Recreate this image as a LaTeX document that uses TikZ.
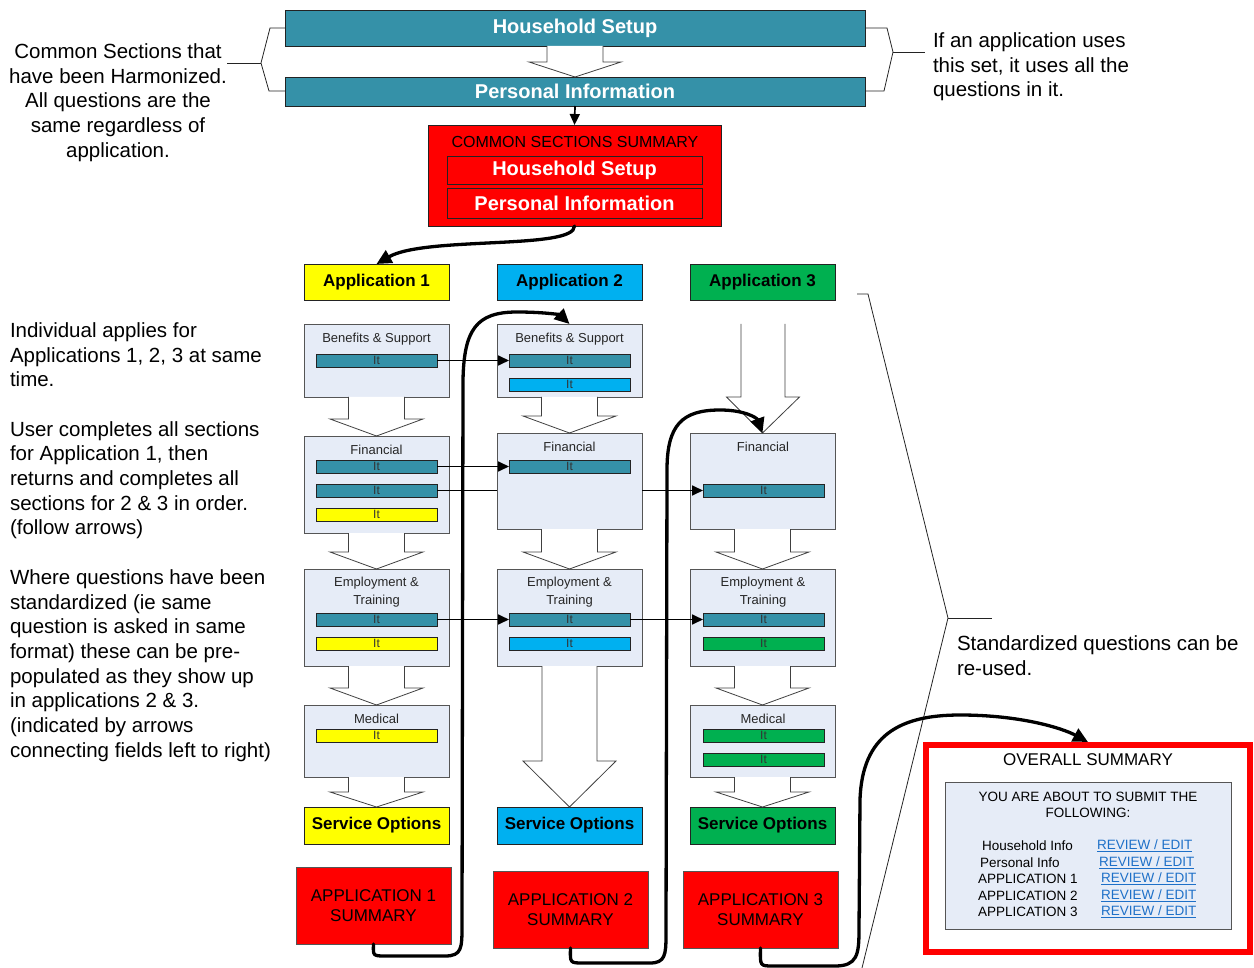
\documentclass[tikz,border=0pt]{standalone}
\usepackage{fontspec}
\setmainfont{Liberation Sans}
\usetikzlibrary{arrows.meta,calc}
\definecolor{tealc}{RGB}{53,145,168}
\definecolor{ylw}{RGB}{255,255,0}
\definecolor{cyn}{RGB}{0,176,240}
\definecolor{grn}{RGB}{0,176,80}
\definecolor{secfill}{RGB}{230,236,247}
\definecolor{secdraw}{RGB}{85,85,85}
\definecolor{darkb}{RGB}{35,35,35}
\definecolor{linkblue}{RGB}{30,112,200}
\newcommand{\fs}[2]{\fontsize{#1}{#2}\selectfont}
\newcommand{\blockarr}[5]{%
  \path[blk] let \p1=#1, \p2=#2 in
    (\x1-#3,\y1) -- (\x1-#3,\y2+#5) -- (\x1-#4,\y2+#5) -- (\x2,\y2)
    -- (\x1+#4,\y2+#5) -- (\x1+#3,\y2+#5) -- (\x1+#3,\y1);}
\begin{document}
\begin{tikzpicture}[x=1pt,y=-1pt,
  every node/.style={inner sep=0pt, outer sep=0pt},
  rbox/.style={rectangle, anchor=north west, draw=darkb, line width=0.8pt},
  hdr/.style={rbox, fill=tealc, text=white, font=\fs{20}{24}\bfseries, minimum width=580pt},
  hdrred/.style={rbox, fill=red, text=white, font=\fs{20}{24}\bfseries, minimum width=255pt},
  apph/.style={rbox, minimum width=145pt, minimum height=36pt, font=\fs{17}{20}\bfseries},
  sec/.style={rbox, draw=secdraw, fill=secfill, minimum width=145pt},
  ttl/.style={font=\fs{13}{17.5}, text=black!85, align=center},
  fld/.style={rbox, minimum width=121pt, minimum height=13pt, font=\fs{12}{13}, text=black!80},
  sumbox/.style={rbox, draw=secdraw, fill=red, minimum width=155pt, minimum height=77pt, font=\fs{17}{20}, align=center},
  blk/.style={draw=black!75, fill=white, line width=0.8pt, line join=miter},
  lnk/.style={draw=black, line width=1.7pt, -{Triangle[length=11pt,width=10pt]}},
  flow/.style={draw=black, line width=3.3pt, line cap=round, -{Triangle[length=15pt,width=14pt]}},
  brk/.style={draw=darkb, line width=0.8pt},
  note/.style={font=\fs{20.5}{24.7}},
  sml/.style={font=\fs{13.5}{16.5}},
  lk/.style={font=\fs{13.5}{16.5}, text=linkblue}
]
\useasboundingbox (0,0) rectangle (1254,968);

% ---- top common sections ----
\node[hdr, minimum height=36pt] (hs) at (285,10) {Household Setup};
\node[hdr, minimum height=29pt] (pi) at (285,77) {Personal Information};
\blockarr{(hs.south)}{(pi.north)}{28}{46}{15}

\node[rbox, fill=red, minimum width=293pt, minimum height=101pt] (css) at (428,125) {};
\node[font=\fs{16}{19}] (csst) at (575,142) {COMMON SECTIONS SUMMARY};
\node[hdrred, minimum height=28pt] (css1) at (447,156) {Household Setup};
\node[hdrred, minimum height=30pt] (css2) at (447,188) {Personal Information};
\draw[lnk] (pi.south) -- (css.north);

% brackets and notes
\draw[brk] (285,28) -- (270,28) -- (261,63) -- (269,91) -- (285,91);
\draw[brk] (227,63) -- (261,63);
\draw[brk] (865,28) -- (887,28) -- (893,52) -- (884,91) -- (865,91);
\draw[brk] (893,52) -- (925,52);
\node[note, align=center, anchor=north] (n1) at (118,43.5) {Common Sections that\\have been Harmonized.\\All questions are the\\same regardless of\\application.};
\node[note, align=left, anchor=north west] (n2) at (933,32.5) {If an application uses\\this set, it uses all the\\questions in it.};
\node[note, align=left, anchor=north west] (n3) at (10,322.5) {Individual applies for\\Applications 1, 2, 3 at same\\time.\\[24.7pt]User completes all sections\\for Application 1, then\\returns and completes all\\sections for 2 \& 3 in order.\\(follow arrows)\\[24.7pt]Where questions have been\\standardized (ie same\\question is asked in same\\format) these can be pre-\\populated as they show up\\in applications 2 \& 3.\\(indicated by arrows\\connecting fields left to right)};
\draw[brk] (857,294) -- (868,294) -- (948,618) -- (862,968);
\draw[brk] (948,618) -- (992,618);
\node[note, align=left, anchor=north west] (n4) at (957,635.5) {Standardized questions can be\\re-used.};

% ---- application headers ----
\node[apph, fill=ylw] (a1) at (304,264) {Application 1};
\node[apph, fill=cyn] (a2) at (497,264) {Application 2};
\node[apph, fill=grn] (a3) at (690,264) {Application 3};

% ---- column 1 ----
\node[sec, minimum height=73pt] (b1) at (304,324) {};
\node[ttl] at (376.5,339) {Benefits \& Support};
\node[fld, fill=tealc] (b1f1) at (316,354) {It};
\node[sec, minimum height=97pt] (f1) at (304,436) {};
\node[ttl] at (376.5,450) {Financial};
\node[fld, fill=tealc] (f1f1) at (316,460) {It};
\node[fld, fill=tealc] (f1f2) at (316,484) {It};
\node[fld, fill=ylw] (f1f3) at (316,508) {It};
\node[sec, minimum height=97pt] (e1) at (304,569) {};
\node[ttl] at (376.5,592) {Employment \&\\Training};
\node[fld, fill=tealc] (e1f1) at (316,613) {It};
\node[fld, fill=ylw] (e1f2) at (316,637) {It};
\node[sec, minimum height=72pt] (m1) at (304,705) {};
\node[ttl] at (376.5,719) {Medical};
\node[fld, fill=ylw] (m1f1) at (316,729) {It};
\node[apph, fill=ylw, minimum height=37pt] (o1) at (304,807) {Service Options};
\node[sumbox] (s1) at (296,867) {APPLICATION 1\\SUMMARY};

% ---- column 2 ----
\node[sec, minimum height=73pt] (b2) at (497,324) {};
\node[ttl] at (569.5,339) {Benefits \& Support};
\node[fld, fill=tealc] (b2f1) at (509,354) {It};
\node[fld, fill=cyn] (b2f2) at (509,378) {It};
\node[sec, minimum height=96pt] (f2) at (497,433) {};
\node[ttl] at (569.5,447) {Financial};
\node[fld, fill=tealc] (f2f1) at (509,460) {It};
\node[sec, minimum height=97pt] (e2) at (497,569) {};
\node[ttl] at (569.5,592) {Employment \&\\Training};
\node[fld, fill=tealc] (e2f1) at (509,613) {It};
\node[fld, fill=cyn] (e2f2) at (509,637) {It};
\node[apph, fill=cyn, minimum height=37pt] (o2) at (497,807) {Service Options};
\node[sumbox] (s2) at (493,871) {APPLICATION 2\\SUMMARY};

% ---- column 3 ----
\coordinate (c3top) at (763,324);
\node[sec, minimum height=96pt] (f3) at (690,433) {};
\node[ttl] at (763,447) {Financial};
\node[fld, fill=tealc] (f3f1) at (703,484) {It};
\node[sec, minimum height=97pt] (e3) at (690,569) {};
\node[ttl] at (763,592) {Employment \&\\Training};
\node[fld, fill=tealc] (e3f1) at (703,613) {It};
\node[fld, fill=grn] (e3f2) at (703,637) {It};
\node[sec, minimum height=72pt] (m3) at (690,705) {};
\node[ttl] at (763,719) {Medical};
\node[fld, fill=grn] (m3f1) at (703,729) {It};
\node[fld, fill=grn] (m3f2) at (703,753) {It};
\node[apph, fill=grn, minimum height=37pt] (o3) at (690,807) {Service Options};
\node[sumbox] (s3) at (683,871) {APPLICATION 3\\SUMMARY};

% ---- block arrows ----
\blockarr{(b1.south)}{(f1.north)}{28}{46.5}{17}
\blockarr{(f1.south)}{(e1.north)}{28}{46.5}{17}
\blockarr{(e1.south)}{(m1.north)}{28}{46.5}{17}
\blockarr{(m1.south)}{(o1.north)}{28}{46.5}{15}
\blockarr{(b2.south)}{(f2.north)}{28}{46.5}{17}
\blockarr{(f2.south)}{(e2.north)}{28}{46.5}{17}
\blockarr{(e2.south)}{(o2.north)}{27.5}{46.5}{46}
\blockarr{(c3top)}{(f3.north)}{22}{36.5}{36}
\blockarr{(f3.south)}{(e3.north)}{28}{46.5}{17}
\blockarr{(e3.south)}{(m3.north)}{28}{46.5}{17}
\blockarr{(m3.south)}{(o3.north)}{28}{46.5}{15}

% ---- field links ----
\draw[lnk] (b1f1.east) -- (b2f1.west);
\draw[lnk] (f1f1.east) -- (f2f1.west);
\draw[line width=1.7pt] (f1f2.east) -- (f1f2.east -| f2.west);
\draw[lnk] (f1f2.east -| f2.east) -- (f3f1.west);
\draw[lnk] (e1f1.east) -- (e2f1.west);
\draw[lnk] (e2f1.east) -- (e3f1.west);

% ---- overall summary ----
\node[rbox, draw=red, line width=6pt, outer sep=3pt, minimum width=324pt, minimum height=207pt] (os) at (923,742) {};
\node[font=\fs{17}{20}] (ost) at (1088,760) {OVERALL SUMMARY};
\node[sec, minimum width=286pt, minimum height=147pt] (osin) at (945,782) {};
\node[sml, align=center] (yat) at (1088,805) {YOU ARE ABOUT TO SUBMIT THE\\FOLLOWING:};
\node[sml, anchor=west] (r1) at (982,846) {Household Info};
\node[sml, anchor=west] (r2) at (980,863) {Personal Info};
\node[sml, anchor=west] (r3) at (978,879) {APPLICATION 1};
\node[sml, anchor=west] (r4) at (978,896) {APPLICATION 2};
\node[sml, anchor=west] (r5) at (978,912) {APPLICATION 3};
\node[lk, anchor=west] (l1) at (1097,846) {\underline{REVIEW / EDIT}};
\node[lk, anchor=west] (l2) at (1099,863) {\underline{REVIEW / EDIT}};
\node[lk, anchor=west] (l3) at (1101,879) {\underline{REVIEW / EDIT}};
\node[lk, anchor=west] (l4) at (1101,896) {\underline{REVIEW / EDIT}};
\node[lk, anchor=west] (l5) at (1101,912) {\underline{REVIEW / EDIT}};

% ---- flow curves ----
\draw[flow] (css.south) .. controls (575,250) and (425,236) .. (a1.north);
\draw[flow] (s1.south) .. controls (373,956) and (373,956) .. (386,956) -- (445,956)
  .. controls (462,956) and (462,948) .. (462,925) -- (463,380)
  .. controls (464,330) and (476,312) .. (517,312)
  .. controls (545,312) and (560,315) .. (b2.north);
\draw[flow] (s2.south) .. controls (570,963) and (570,963) .. (583,963) -- (650,963)
  .. controls (665,963) and (666,955) .. (666,935) -- (667,470)
  .. controls (667,425) and (682,410) .. (720,410)
  .. controls (745,410) and (757,418) .. (f3.north);
\draw[flow] (s3.south) .. controls (760,966) and (760,966) .. (773,966) -- (835,966)
  .. controls (857,966) and (859,955) .. (859,930) -- (860,800)
  .. controls (862,735) and (900,715) .. (960,715)
  .. controls (1020,715) and (1062,728) .. (os.north);
\end{tikzpicture}
\end{document}
